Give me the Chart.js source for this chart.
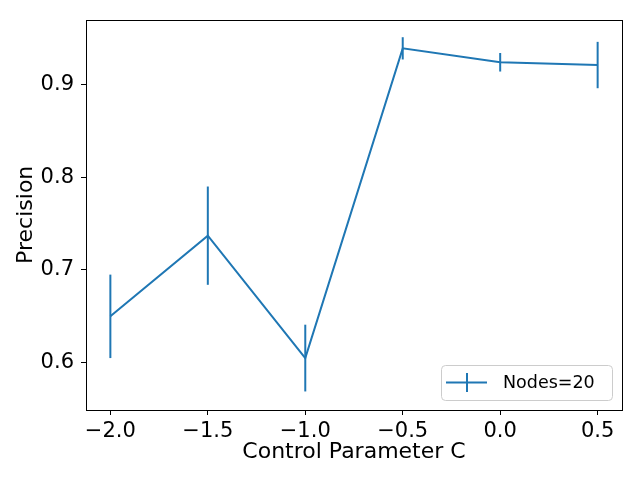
<!DOCTYPE html>
<html>
<head>
<meta charset="utf-8">
<title>Precision vs Control Parameter C</title>
<script src="https://cdn.jsdelivr.net/npm/chart.js@4.4.1/dist/chart.umd.min.js"></script>
<style>
  html, body { margin: 0; padding: 0; background: #fff; }
  canvas { display: block; }
</style>
</head>
<body>
<canvas id="chart" width="640" height="480"></canvas>
<script>
// values
const controlC = [-2.0, -1.5, -1.0, -0.5, 0.0, 0.5];
const precision = [0.650, 0.737, 0.605, 0.939, 0.924, 0.921];
const precisionErr = [0.045, 0.053, 0.036, 0.012, 0.010, 0.025];
const seriesLabel = 'Nodes=20';

const BLUE = '#1f77b4';
const FONT = '"DejaVu Sans", sans-serif';

// matplotlib style minus sign on tick labels
function fmtTick(value) {
  return value.toFixed(1).replace('-', '\u2212');
}

// vertical error bars, no caps
const errorBars = {
  id: 'errorBars',
  afterDatasetsDraw(chart) {
    const {ctx, scales: {x, y}} = chart;
    ctx.save();
    ctx.strokeStyle = BLUE;
    ctx.lineWidth = 2;
    controlC.forEach((c, i) => {
      const px = x.getPixelForValue(c);
      ctx.beginPath();
      ctx.moveTo(px, y.getPixelForValue(precision[i] - precisionErr[i]));
      ctx.lineTo(px, y.getPixelForValue(precision[i] + precisionErr[i]));
      ctx.stroke();
    });
    ctx.restore();
  }
};

// box round the axes and the legend in the lower right corner
const frameAndLegend = {
  id: 'frameAndLegend',
  afterDraw(chart) {
    const {ctx, chartArea: a} = chart;
    ctx.save();
    ctx.strokeStyle = '#000';
    ctx.lineWidth = 1;
    ctx.strokeRect(Math.round(a.left) + 0.5, Math.round(a.top) + 0.5,
      Math.round(a.right - a.left), Math.round(a.bottom - a.top));

    const w = 171, h = 35;
    const bx = a.right - 10 - w, by = a.bottom - 10 - h;
    ctx.beginPath();
    ctx.roundRect(bx + 0.5, by + 0.5, w, h, 4);
    ctx.fillStyle = 'rgba(255,255,255,0.8)';
    ctx.fill();
    ctx.strokeStyle = '#cccccc';
    ctx.stroke();

    const my = by + h / 2;
    ctx.strokeStyle = BLUE;
    ctx.lineWidth = 2;
    ctx.beginPath();
    ctx.moveTo(bx + 5, my);
    ctx.lineTo(bx + 46, my);
    ctx.moveTo(bx + 26, my - 9.5);
    ctx.lineTo(bx + 26, my + 9.5);
    ctx.stroke();

    ctx.fillStyle = '#000';
    ctx.font = '17.5px ' + FONT;
    ctx.textBaseline = 'middle';
    ctx.fillText(seriesLabel, bx + 62, my + 1);
    ctx.restore();
  }
};

new Chart(document.getElementById('chart'), {
  type: 'line',
  data: {
    datasets: [{
      label: seriesLabel,
      data: controlC.map((c, i) => ({x: c, y: precision[i]})),
      borderColor: BLUE,
      borderWidth: 2,
      pointRadius: 0,
      tension: 0,
      fill: false
    }]
  },
  options: {
    responsive: false,
    animation: false,
    devicePixelRatio: 1,
    layout: {padding: {top: 18, right: 18, left: 0, bottom: 0}},
    plugins: {legend: {display: false}, tooltip: {enabled: false}},
    scales: {
      x: {
        type: 'linear',
        min: -2.125,
        max: 0.625,
        afterFit(scale) { scale.height = 70; },
        grid: {drawOnChartArea: false, drawTicks: true, tickLength: 5, tickColor: '#000'},
        border: {display: false},
        ticks: {
          stepSize: 0.5,
          includeBounds: false,
          maxRotation: 0,
          padding: 4,
          color: '#000',
          font: {family: FONT, size: 21},
          callback: fmtTick
        },
        title: {
          display: true,
          text: 'Control Parameter C',
          color: '#000',
          font: {family: FONT, size: 22},
          padding: {top: 0, bottom: 15}
        }
      },
      y: {
        type: 'linear',
        min: 0.549,
        max: 0.970,
        afterFit(scale) { scale.width = 86; },
        grid: {drawOnChartArea: false, drawTicks: true, tickLength: 5, tickColor: '#000'},
        border: {display: false},
        ticks: {
          stepSize: 0.1,
          includeBounds: false,
          padding: 7,
          color: '#000',
          font: {family: FONT, size: 21},
          callback: fmtTick
        },
        title: {
          display: true,
          text: 'Precision',
          color: '#000',
          font: {family: FONT, size: 22},
          padding: {top: 13, bottom: 0}
        }
      }
    }
  },
  plugins: [errorBars, frameAndLegend]
});
</script>
</body>
</html>
